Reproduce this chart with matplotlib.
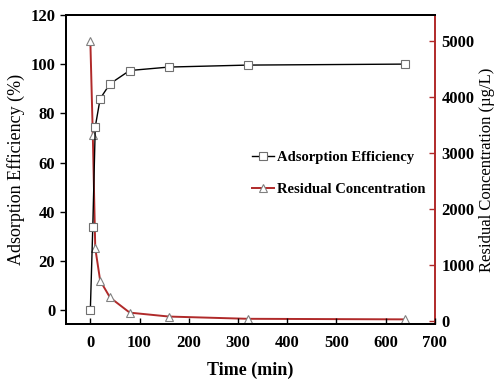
import matplotlib
matplotlib.use('Agg')
import matplotlib.pyplot as plt

plt.rcParams['font.family'] = ['Liberation Serif', 'DejaVu Serif']

# data
time = [0, 5, 10, 20, 40, 80, 160, 320, 640]
efficiency = [0, 34, 74.5, 86, 92, 97.4, 98.8, 99.6, 100]
concentration = [5000, 3320, 1300, 720, 420, 150, 80, 40, 30]

fig = plt.figure(figsize=(4.98, 3.81), dpi=100)
ax = fig.add_axes([0.132, 0.150, 0.741, 0.811])
ax2 = ax.twinx()

red = '#b02a2a'

l2, = ax2.plot(time, concentration, color=red, lw=1.4, marker='^', ms=6,
               mfc='white', mec='#808080', mew=0.8, label='Residual Concentration')
l1, = ax.plot(time, efficiency, color='black', lw=1.0, marker='s', ms=5.5,
              mfc='white', mec='#707070', mew=0.8, label='Adsorption Efficiency')
ax.set_zorder(ax2.get_zorder() + 1)
ax.patch.set_visible(False)

ax.set_xlim(-50, 700)
ax.set_ylim(-5.5, 120)
ax2.set_ylim(-50, 5460)

ax.set_xticks(range(0, 701, 100))
ax.set_yticks(range(0, 121, 20))
ax2.set_yticks(range(0, 5001, 1000))

for a in (ax, ax2):
    for lab in a.get_xticklabels() + a.get_yticklabels():
        lab.set_fontweight('bold')
        lab.set_fontsize(12)

ax.tick_params(axis='y', direction='out', length=4, width=1)
ax.tick_params(axis='x', direction='in', length=4, width=1, pad=8)
ax2.tick_params(axis='y', direction='in', length=4, width=1, colors=red,
                labelcolor='black', pad=5)

for s in ax.spines.values():
    s.set_linewidth(1.4)
ax.spines['right'].set_visible(False)
for s in ax2.spines.values():
    s.set_linewidth(1.4)
ax2.spines['right'].set_color(red)

ax.set_xlabel('Time (min)', fontsize=13, fontweight='bold', labelpad=8)
ax.set_ylabel('Adsorption Efficiency (%)', fontsize=13)
ax2.set_ylabel('Residual Concentration (\u00b5g/L)', fontsize=12, labelpad=3)

ax.legend([l1, l2], ['Adsorption Efficiency', 'Residual Concentration'],
          loc='center right', bbox_to_anchor=(1.01, 0.487), frameon=False,
          handlelength=1.5, handletextpad=0.2, labelspacing=1.25,
          prop={'weight': 'bold', 'size': 10.5})

fig.savefig('out.png', dpi=100)
